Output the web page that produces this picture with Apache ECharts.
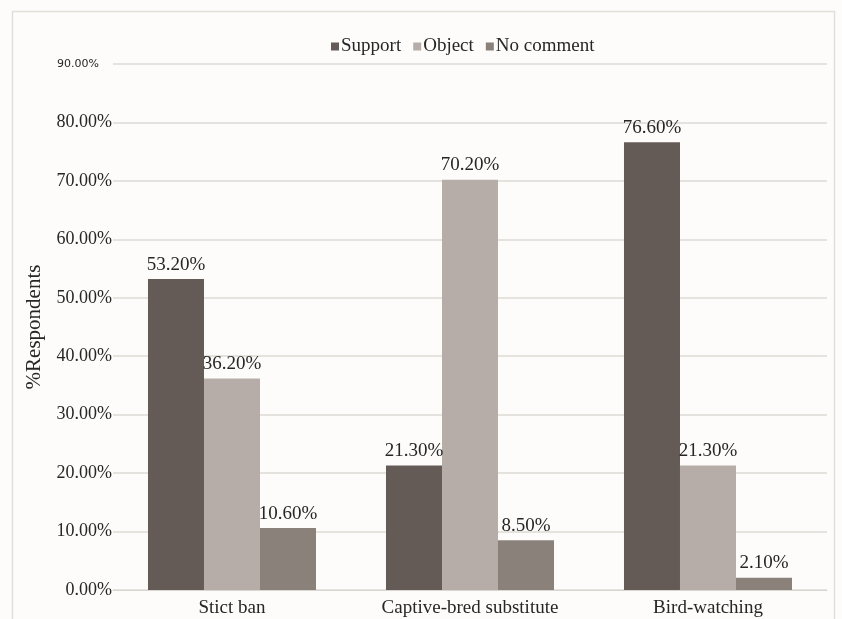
<!DOCTYPE html>
<html><head><meta charset="utf-8">
<script src="https://cdn.jsdelivr.net/npm/echarts@6/dist/echarts.min.js"></script>
<style>html,body{margin:0;padding:0;background:#fdfcfa}#c{width:842px;height:619px}</style>
</head><body><div id="c"></div>
<script>
const categories = ['Stict ban', 'Captive-bred substitute', 'Bird-watching'];
const support = [53.2, 21.3, 76.6];
const object = [36.2, 70.2, 21.3];
const noComment = [10.6, 8.5, 2.1];
const seriesNames = ['Support', 'Object', 'No comment'];
const colors = ['#645b56', '#b7ada8', '#8a817b'];

const serif = 'Liberation Serif';
const chart = echarts.init(document.getElementById('c'));
const lbl = {show: true, position: 'top', distance: 5, fontFamily: serif, fontSize: 19, color: '#262626',
  formatter: p => p.value.toFixed(2) + '%'};
chart.setOption({
  backgroundColor: '#fdfcfa',
  animation: false,
  color: colors,
  graphic: [{type: 'rect', shape: {x: 12.5, y: 11.5, width: 822, height: 620}, style: {fill: 'none', stroke: '#e2dfdb', lineWidth: 1.5}}],
  legend: {top: 32, left: 326, itemWidth: 8, itemHeight: 8, itemGap: 12, icon: 'rect',
    textStyle: {fontFamily: serif, fontSize: 19, color: '#262626', padding: [0, 0, 0, -3]}, data: seriesNames},
  grid: {left: 113, right: 15, top: 64, bottom: 29, containLabel: false},
  xAxis: {type: 'category', data: categories,
    axisLine: {lineStyle: {color: '#d9d6d2'}}, axisTick: {show: false},
    axisLabel: {fontFamily: serif, fontSize: 19, color: '#262626', margin: 9}},
  yAxis: {type: 'value', min: 0, max: 90, interval: 10,
    name: '%Respondents', nameLocation: 'middle', nameGap: 68, nameRotate: 90,
    nameTextStyle: {fontFamily: serif, fontSize: 21, color: '#262626'},
    splitLine: {lineStyle: {color: '#dedbd6', width: 1.5}},
    axisLine: {show: false}, axisTick: {show: false},
    axisLabel: {margin: 1, fontFamily: serif, fontSize: 18, color: '#262626',
      formatter: v => v === 90 ? '{s|90.00%}' : v.toFixed(2) + '%',
      rich: {s: {fontFamily: 'DejaVu Sans', fontSize: 11, color: '#262626', padding: [0, 13, 0, 0]}}}},
  series: [
    {name: seriesNames[0], type: 'bar', data: support, barGap: '0%', barCategoryGap: '29.4%', label: lbl},
    {name: seriesNames[1], type: 'bar', data: object, label: lbl},
    {name: seriesNames[2], type: 'bar', data: noComment, label: lbl}
  ]
});
</script></body></html>
